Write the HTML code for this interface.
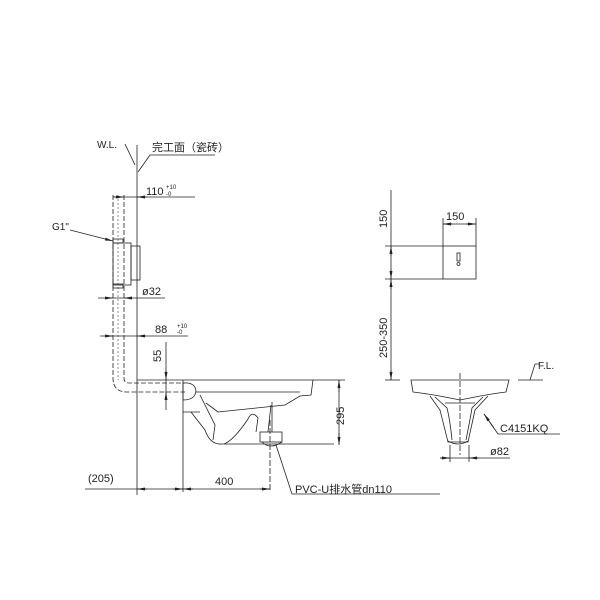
<!DOCTYPE html>
<html><head><style>body{margin:0;background:#fff}svg{display:block}text{font-family:"Liberation Sans","Noto Sans CJK SC",sans-serif;fill:#222}</style></head><body>
<svg width="600" height="600" viewBox="0 0 600 600" stroke="#222" stroke-width="0.8" fill="none">
<defs><marker id="a" markerWidth="8" markerHeight="6" refX="8" refY="3" orient="auto-start-reverse" markerUnits="userSpaceOnUse"><path d="M0,1.5 L8,3 L0,4.5z" fill="#222" stroke="none"/></marker></defs>
<line x1="137" y1="145" x2="137" y2="495"/>
<path d="M125,144 L135,165"/>
<text x="97" y="148" font-size="10" stroke="none">W.L.</text>
<text x="152" y="151" font-size="11" stroke="none">完工面（瓷砖）</text>
<path d="M150,155 L215,155 M150,155 L138,172" />
<line x1="113" y1="197" x2="195" y2="197"/>
<line x1="113" y1="197" x2="124" y2="197" marker-end="url(#a)"/>
<line x1="147" y1="197" x2="137" y2="197" marker-end="url(#a)"/>
<text x="146" y="195" font-size="11" stroke="none">110</text>
<text x="166" y="189" font-size="6" stroke="none">+10</text>
<text x="166" y="196" font-size="6" stroke="none">-0</text>
<path d="M113,195 V378 Q113,392 127,392 H185" stroke-dasharray="5,2"/>
<path d="M124,195 V378 Q124,383 129,383 H185" stroke-dasharray="5,2"/>
<path d="M118,195 V380" stroke-dasharray="2,2" stroke-width="0.5"/>
<rect x="113" y="243" width="18" height="42"/>
<rect x="131" y="246" width="9" height="34"/>
<rect x="113" y="239" width="10" height="4"/>
<rect x="113" y="284" width="10" height="4"/>
<text x="52" y="230" font-size="10" stroke="none">G1"</text>
<line x1="70" y1="230" x2="113" y2="241" marker-end="url(#a)"/>
<line x1="98" y1="298" x2="165" y2="298"/>
<line x1="105" y1="298" x2="113" y2="298" marker-end="url(#a)"/>
<line x1="132" y1="298" x2="124" y2="298" marker-end="url(#a)"/>
<text x="142" y="295" font-size="11" stroke="none">ø32</text>
<line x1="100" y1="336" x2="188" y2="336"/>
<line x1="105" y1="336" x2="113" y2="336" marker-end="url(#a)"/>
<line x1="146" y1="336" x2="137" y2="336" marker-end="url(#a)"/>
<text x="155" y="333" font-size="11" stroke="none">88</text>
<text x="177" y="328" font-size="6" stroke="none">+10</text>
<text x="177" y="334" font-size="6" stroke="none">-0</text>
<line x1="166" y1="342" x2="166" y2="410"/>
<line x1="166" y1="370" x2="166" y2="380" marker-end="url(#a)"/>
<line x1="166" y1="400" x2="166" y2="392" marker-end="url(#a)"/>
<text transform="translate(161,362) rotate(-90)" font-size="11" stroke="none">55</text>
<line x1="137" y1="380" x2="182" y2="380"/>
<path d="M182,380 H313 L311,395 L300,396 L285,405 L218,412"/>
<path d="M196,392 H300"/>
<path d="M183,383 Q195,382 196,391 Q195,400 183,400 Z"/>
<path d="M183,380 V412 H200 M206,403 L218,412"/>
<path d="M200,395 L215,425 L213,440"/>
<path d="M191,412 L205,430 Q210,445 222,444 L334,444"/>
<path d="M224,444 Q234,440 248,419 Q252,410 258,418 L256,432"/>
<path d="M272,402 V432 M268,432 L271,405"/>
<rect x="260" y="432" width="22" height="10"/>
<path d="M262,442 Q270,450 282,442"/>
<line x1="270" y1="420" x2="270" y2="492" stroke-dasharray="6,2"/>
<line x1="183" y1="412" x2="183" y2="492"/>
<line x1="313" y1="380" x2="345" y2="380"/>
<line x1="339" y1="380" x2="339" y2="445"/>
<line x1="339" y1="392" x2="339" y2="380" marker-end="url(#a)"/>
<line x1="339" y1="433" x2="339" y2="445" marker-end="url(#a)"/>
<text transform="translate(344,425) rotate(-90)" font-size="11" stroke="none">295</text>
<line x1="85" y1="489" x2="270" y2="489"/>
<line x1="147" y1="489" x2="137" y2="489" marker-end="url(#a)"/>
<line x1="173" y1="489" x2="183" y2="489" marker-end="url(#a)"/>
<line x1="193" y1="489" x2="183" y2="489" marker-end="url(#a)"/>
<line x1="260" y1="489" x2="270" y2="489" marker-end="url(#a)"/>
<text x="88" y="482" font-size="11" stroke="none">(205)</text>
<text x="215" y="485" font-size="11" stroke="none">400</text>
<path d="M276,445 L292,494 H440"/>
<text x="295" y="493" font-size="11" stroke="none">PVC-U排水管dn110</text>
<line x1="391" y1="190" x2="391" y2="380"/>
<line x1="385" y1="246" x2="443" y2="246"/>
<line x1="385" y1="279" x2="443" y2="279"/>
<line x1="385" y1="380" x2="400" y2="380"/>
<line x1="391" y1="256" x2="391" y2="246" marker-end="url(#a)"/>
<line x1="391" y1="269" x2="391" y2="279" marker-end="url(#a)"/>
<line x1="391" y1="289" x2="391" y2="279" marker-end="url(#a)"/>
<line x1="391" y1="370" x2="391" y2="380" marker-end="url(#a)"/>
<text transform="translate(387,228) rotate(-90)" font-size="11" stroke="none">150</text>
<text transform="translate(387,358) rotate(-90)" font-size="11" stroke="none">250-350</text>
<rect x="443" y="246" width="33" height="33"/>
<rect x="457" y="253" width="3" height="8"/>
<circle cx="458.5" cy="264" r="1.5"/>
<line x1="443" y1="218" x2="443" y2="246"/>
<line x1="476" y1="218" x2="476" y2="246"/>
<line x1="443" y1="224" x2="476" y2="224"/>
<line x1="453" y1="224" x2="443" y2="224" marker-end="url(#a)"/>
<line x1="466" y1="224" x2="476" y2="224" marker-end="url(#a)"/>
<text x="446" y="220" font-size="11" stroke="none">150</text>
<line x1="518" y1="380" x2="543" y2="380"/>
<path d="M530,380 L535,364 H540"/>
<text x="538" y="369" font-size="10" stroke="none">F.L.</text>
<path d="M411,380 H509 L506,392 Q490,394 470,398 L460,400 L450,398 Q430,394 413,392 Z"/>
<path d="M430,396 L440,410 L448,442 H468 L475,410 L488,396"/>
<path d="M435,397 L447,408 Q450,420 452,440 M483,397 L472,408 Q470,420 466,440"/>
<path d="M445,403 H475 M448,441 Q458,447 468,441"/>
<line x1="460" y1="373" x2="460" y2="455" stroke-dasharray="6,2"/>
<path d="M498,434 H560 M498,434 L484,414" />
<line x1="494" y1="428" x2="484" y2="414" marker-end="url(#a)"/>
<text x="500" y="432" font-size="11" stroke="none">C4151KQ</text>
<line x1="440" y1="458" x2="510" y2="458"/>
<line x1="450" y1="445" x2="450" y2="462"/>
<line x1="469" y1="445" x2="469" y2="462"/>
<line x1="440" y1="458" x2="450" y2="458" marker-end="url(#a)"/>
<line x1="479" y1="458" x2="469" y2="458" marker-end="url(#a)"/>
<text x="490" y="455" font-size="11" stroke="none">ø82</text>
</svg>
</body></html>
